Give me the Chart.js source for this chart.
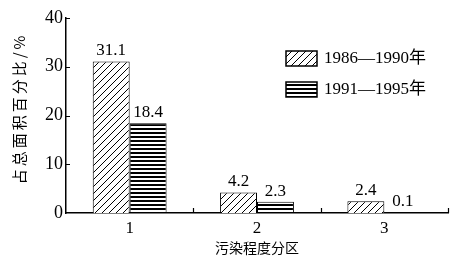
<!DOCTYPE html>
<html>
<head>
<meta charset="utf-8">
<script src="https://cdn.jsdelivr.net/npm/chart.js@4.4.0/dist/chart.umd.min.js"></script>
<style>
  body { margin: 0; background: #fff; }
</style>
</head>
<body>
<canvas id="myChart" width="459" height="260"></canvas>
<script>
// data
const categories = ['1', '2', '3'];
const seriesNames = ['1986\u20141990年', '1991\u20141995年'];
const values1986 = [31.1, 4.2, 2.4];
const values1991 = [18.4, 2.3, 0.1];
const yTicks = [0, 10, 20, 30, 40];
const yTitle = '占总面积百分比/%';
const xTitle = '污染程度分区';

const serif = '"Liberation Serif", "Times New Roman", "Noto Sans CJK SC", serif';
const cjk = '"Noto Sans CJK SC", sans-serif';

// diagonal hatch ///
function hatchPattern() {
    const c = document.createElement('canvas');
    c.width = 7; c.height = 7;
    const g = c.getContext('2d');
    g.fillStyle = '#fff';
    g.fillRect(0, 0, 7, 7);
    g.strokeStyle = '#000';
    g.lineWidth = 1;
    g.beginPath();
    g.moveTo(-1, 8); g.lineTo(8, -1);
    g.moveTo(-4, 4); g.lineTo(4, -4);
    g.moveTo(3, 11); g.lineTo(11, 3);
    g.stroke();
    return g.createPattern(c, 'repeat');
}

// horizontal stripes
function stripePattern() {
    const c = document.createElement('canvas');
    c.width = 4; c.height = 4;
    const g = c.getContext('2d');
    g.fillStyle = '#fff';
    g.fillRect(0, 0, 4, 4);
    g.fillStyle = '#000';
    g.fillRect(0, 0, 4, 2);
    return g.createPattern(c, 'repeat');
}

const fills = [hatchPattern(), stripePattern()];

// value labels above the bars
const valueLabels = {
    id: 'valueLabels',
    afterDatasetsDraw(chart) {
        const ctx = chart.ctx;
        ctx.save();
        ctx.fillStyle = '#000';
        ctx.font = '17px ' + serif;
        ctx.textAlign = 'center';
        ctx.textBaseline = 'bottom';
        chart.data.datasets.forEach((ds, i) => {
            chart.getDatasetMeta(i).data.forEach((bar, j) => {
                ctx.fillText(ds.data[j].toFixed(1), bar.x, bar.y - 2);
            });
        });
        ctx.restore();
    }
};

// inward ticks on both axes, spaced y title
const innerTicks = {
    id: 'innerTicks',
    afterDraw(chart) {
        const ctx = chart.ctx;
        const y = chart.scales.y;
        const area = chart.chartArea;
        ctx.save();
        ctx.strokeStyle = '#000';
        ctx.lineWidth = 1.2;
        ctx.beginPath();
        yTicks.forEach(v => {
            if (v === 0) return;
            const py = Math.round(y.getPixelForValue(v)) + 0.5;
            ctx.moveTo(area.left, py);
            ctx.lineTo(area.left + 4, py);
        });
        const w = (area.right - area.left) / categories.length;
        for (let k = 1; k <= categories.length; k++) {
            const px = Math.round(area.left + k * w) + 0.5;
            ctx.moveTo(px, area.bottom);
            ctx.lineTo(px, area.bottom - 5);
        }
        ctx.stroke();

        // y title, rotated, letters spread out
        ctx.translate(19, 110);
        ctx.rotate(-Math.PI / 2);
        ctx.font = '15px ' + cjk;
        ctx.fillStyle = '#000';
        ctx.textBaseline = 'middle';
        const gap = 3;
        const chars = Array.from(yTitle);
        let total = 0;
        chars.forEach(ch => { total += ctx.measureText(ch).width + gap; });
        total -= gap;
        let cx = -total / 2;
        chars.forEach(ch => {
            ctx.fillText(ch, cx, 0);
            cx += ctx.measureText(ch).width + gap;
        });
        ctx.restore();
    }
};

// legend inside the plot
const boxLegend = {
    id: 'boxLegend',
    afterDraw(chart) {
        const ctx = chart.ctx;
        ctx.save();
        ctx.font = '17px ' + serif;
        ctx.textBaseline = 'middle';
        const rows = [58, 89];
        chart.data.datasets.forEach((ds, i) => {
            const ty = rows[i];
            ctx.fillStyle = ds.backgroundColor;
            ctx.fillRect(286, ty - 7, 31, 15);
            ctx.strokeStyle = '#000';
            ctx.lineWidth = 1.5;
            ctx.strokeRect(286, ty - 7, 31, 15);
            ctx.fillStyle = '#000';
            ctx.fillText(ds.label, 324, ty + 1);
        });
        ctx.restore();
    }
};

const ctx = document.getElementById('myChart');
const myChart = new Chart(ctx, {
    type: 'bar',
    data: {
        labels: categories,
        datasets: [{
            label: seriesNames[0],
            data: values1986,
            backgroundColor: fills[0],
            borderColor: '#000',
            borderWidth: 1
        }, {
            label: seriesNames[1],
            data: values1991,
            backgroundColor: fills[1],
            borderColor: '#000',
            borderWidth: 1
        }]
    },
    options: {
        responsive: false,
        animation: false,
        layout: {
            padding: { top: 18, right: 11, bottom: 0, left: 0 }
        },
        plugins: {
            legend: { display: false },
            tooltip: { enabled: false }
        },
        datasets: {
            bar: { categoryPercentage: 0.58, barPercentage: 1.0 }
        },
        scales: {
            x: {
                grid: { display: false, drawTicks: false },
                border: { display: true, color: '#000', width: 1.5 },
                ticks: {
                    color: '#000',
                    font: { family: serif, size: 17 },
                    padding: 5
                },
                title: {
                    display: true,
                    text: xTitle,
                    color: '#000',
                    font: { family: cjk, size: 14 },
                    padding: { top: 0, bottom: 4 }
                },
                afterFit: s => { s.height = 47; }
            },
            y: {
                min: 0,
                max: 40,
                grid: { display: false, drawTicks: false },
                border: { display: true, color: '#000', width: 1.5 },
                afterBuildTicks: s => { s.ticks = yTicks.map(v => ({ value: v })); },
                ticks: {
                    color: '#000',
                    font: { family: serif, size: 18 },
                    padding: 3
                },
                afterFit: s => { s.width = 66; }
            }
        }
    },
    plugins: [valueLabels, innerTicks, boxLegend]
});
</script>
</body>
</html>
